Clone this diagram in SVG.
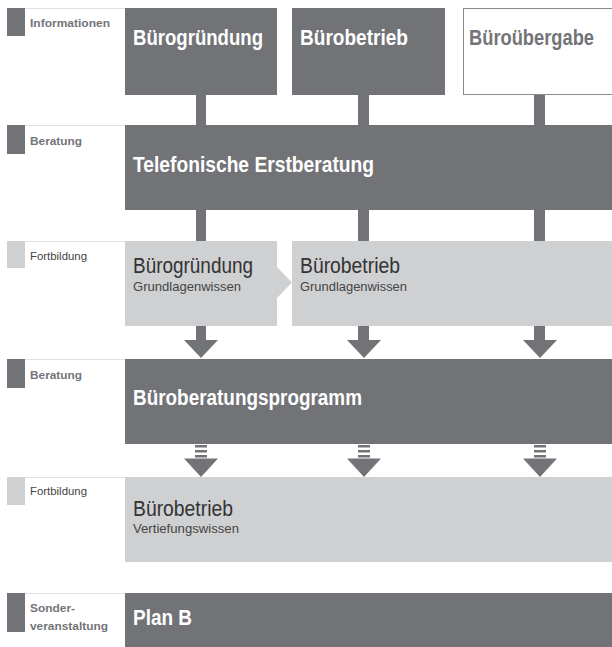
<svg xmlns="http://www.w3.org/2000/svg" width="612" height="647" viewBox="0 0 612 647">
<style>
.dark{fill:#727377}
.light{fill:#cfd0d2}
.sep{stroke:#e2e2e2;stroke-width:1}
text{font-family:"Liberation Sans Narrow","Liberation Sans",Arial,sans-serif}
.lbl{font-size:11.5px;font-weight:bold;fill:#737478}
.lblr{font-size:11.5px;fill:#444}
.title{font-size:22px;font-weight:bold;fill:#ffffff}
.titleg{font-size:22px;font-weight:bold;fill:#737478}
.ltitle{font-size:22px;fill:#333}
.sub{font-size:12px;fill:#444}
</style>
<rect width="612" height="647" fill="#ffffff"/>
<g id="connectors">
  <rect class="dark" x="196" y="95" width="10" height="31"/>
  <rect class="dark" x="358" y="95" width="11" height="31"/>
  <rect class="dark" x="534" y="95" width="11" height="31"/>
  <rect class="dark" x="196" y="209" width="10" height="33"/>
  <rect class="dark" x="358" y="209" width="11" height="33"/>
  <rect class="dark" x="534" y="209" width="11" height="33"/>
  <polygon class="light" points="277,267 277,298 292,282.5"/>
  <rect class="dark" x="196" y="325" width="10" height="16"/>
  <polygon class="dark" points="184,340 218,340 201,358"/>
  <rect class="dark" x="358" y="325" width="11" height="16"/>
  <polygon class="dark" points="347,340 381,340 364,358"/>
  <rect class="dark" x="534" y="325" width="11" height="16"/>
  <polygon class="dark" points="523,340 557,340 540,358"/>
  <g class="dark">
    <rect x="195" y="445" width="12" height="2.5"/><rect x="195" y="450" width="12" height="2.5"/><rect x="195" y="455" width="12" height="2.5"/>
    <polygon points="184,458.5 218,458.5 201,477"/>
    <rect x="358" y="445" width="12" height="2.5"/><rect x="358" y="450" width="12" height="2.5"/><rect x="358" y="455" width="12" height="2.5"/>
    <polygon points="347,458.5 381,458.5 364,477"/>
    <rect x="534" y="445" width="12" height="2.5"/><rect x="534" y="450" width="12" height="2.5"/><rect x="534" y="455" width="12" height="2.5"/>
    <polygon points="523,458.5 557,458.5 540,477"/>
  </g>
</g>
<g id="label-informationen">
  <rect class="dark" x="7" y="8" width="18" height="28"/>
  <line class="sep" x1="25" y1="8.5" x2="125" y2="8.5"/>
  <text class="lbl" x="30" y="27" textLength="80" lengthAdjust="spacingAndGlyphs">Informationen</text>
</g>
<g id="node-buerogruendung">
  <rect class="dark" x="125" y="8" width="152" height="87"/>
  <text class="title" x="133" y="45" textLength="130" lengthAdjust="spacingAndGlyphs">Bürogründung</text>
</g>
<g id="node-buerobetrieb">
  <rect class="dark" x="292" y="8" width="153" height="87"/>
  <text class="title" x="300" y="45" textLength="108" lengthAdjust="spacingAndGlyphs">Bürobetrieb</text>
</g>
<g id="node-bueroubergabe">
  <rect x="463.5" y="8.5" width="150" height="86" fill="#ffffff" stroke="#8a8b8e" stroke-width="1"/>
  <text class="titleg" x="469" y="45" textLength="125" lengthAdjust="spacingAndGlyphs">Büroübergabe</text>
</g>
<g id="label-beratung-1">
  <rect class="dark" x="7" y="125" width="18" height="29"/>
  <line class="sep" x1="25" y1="125.5" x2="125" y2="125.5"/>
  <text class="lbl" x="30" y="145" textLength="52" lengthAdjust="spacingAndGlyphs">Beratung</text>
</g>
<g id="node-telefonische-erstberatung">
  <rect class="dark" x="125" y="125" width="487" height="85"/>
  <text class="title" x="133" y="172" textLength="241" lengthAdjust="spacingAndGlyphs">Telefonische Erstberatung</text>
</g>
<g id="label-fortbildung-1">
  <rect class="light" x="7" y="241" width="18" height="27"/>
  <line class="sep" x1="25" y1="241.5" x2="125" y2="241.5"/>
  <text class="lblr" x="30" y="260" textLength="57" lengthAdjust="spacingAndGlyphs">Fortbildung</text>
</g>
<g id="node-fb-buerogruendung">
  <rect class="light" x="125" y="241" width="152" height="85"/>
  <text class="ltitle" x="133" y="273" textLength="120" lengthAdjust="spacingAndGlyphs">Bürogründung</text>
  <text class="sub" x="133" y="291" textLength="108" lengthAdjust="spacingAndGlyphs">Grundlagenwissen</text>
</g>
<g id="node-fb-buerobetrieb">
  <rect class="light" x="292" y="241" width="320" height="85"/>
  <text class="ltitle" x="300" y="273" textLength="100" lengthAdjust="spacingAndGlyphs">Bürobetrieb</text>
  <text class="sub" x="300" y="291" textLength="107" lengthAdjust="spacingAndGlyphs">Grundlagenwissen</text>
</g>
<g id="label-beratung-2">
  <rect class="dark" x="7" y="359" width="18" height="29"/>
  <line class="sep" x1="25" y1="359.5" x2="125" y2="359.5"/>
  <text class="lbl" x="30" y="379" textLength="52" lengthAdjust="spacingAndGlyphs">Beratung</text>
</g>
<g id="node-bueroberatungsprogramm">
  <rect class="dark" x="125" y="359" width="487" height="85"/>
  <text class="title" x="133" y="405" textLength="229" lengthAdjust="spacingAndGlyphs">Büroberatungsprogramm</text>
</g>
<g id="label-fortbildung-2">
  <rect class="light" x="7" y="477" width="18" height="28"/>
  <line class="sep" x1="25" y1="477.5" x2="125" y2="477.5"/>
  <text class="lblr" x="30" y="495" textLength="57" lengthAdjust="spacingAndGlyphs">Fortbildung</text>
</g>
<g id="node-fb-vertiefung">
  <rect class="light" x="125" y="477" width="487" height="85"/>
  <text class="ltitle" x="133" y="516" textLength="100" lengthAdjust="spacingAndGlyphs">Bürobetrieb</text>
  <text class="sub" x="133" y="533" textLength="106" lengthAdjust="spacingAndGlyphs">Vertiefungswissen</text>
</g>
<g id="label-sonderveranstaltung">
  <rect class="dark" x="7" y="593" width="18" height="39"/>
  <line class="sep" x1="25" y1="593.5" x2="125" y2="593.5"/>
  <text class="lbl" x="30" y="612" textLength="45" lengthAdjust="spacingAndGlyphs">Sonder-</text>
  <text class="lbl" x="30" y="630" textLength="78" lengthAdjust="spacingAndGlyphs">veranstaltung</text>
</g>
<g id="node-plan-b">
  <rect class="dark" x="125" y="593" width="487" height="54"/>
  <text class="title" x="133" y="625" textLength="59" lengthAdjust="spacingAndGlyphs">Plan B</text>
</g>
</svg>
